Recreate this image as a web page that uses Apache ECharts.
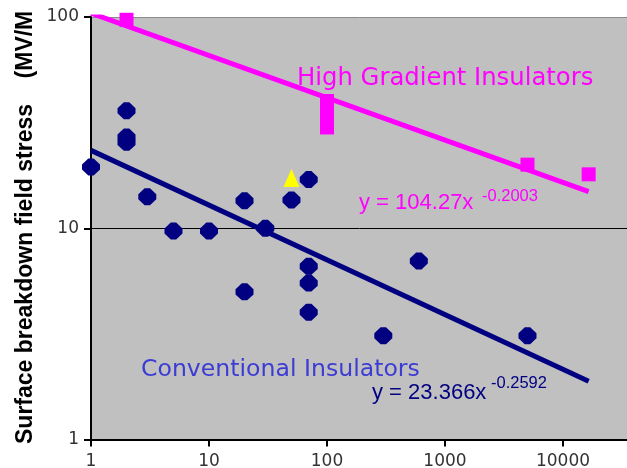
<!DOCTYPE html>
<html>
<head>
<meta charset="utf-8">
<script src="https://cdn.jsdelivr.net/npm/echarts@6/dist/echarts.min.js"></script>
<style>
  html, body { margin: 0; padding: 0; background: #ffffff; }
  #chart { width: 627px; height: 468px; }
</style>
</head>
<body>
<div id="chart"></div>
<script>
// Breakdown field stress of insulators versus gap / scale parameter (log-log)
const conventionalX = [1, 2, 2, 2, 3, 5, 10, 20, 20, 30, 50, 70, 70, 70, 70, 300, 600, 5000];
const conventionalY = [19.5, 36, 27, 25.5, 14.1, 9.7, 9.7, 13.5, 5.0, 10.0, 13.6, 17, 6.6, 5.5, 4.0, 3.1, 7.0, 3.1];

const highGradientX = [2, 100, 100, 100, 100, 5000, 16500];
const highGradientY = [97, 40, 36, 33, 30, 20, 18];

const highlightX = [50];
const highlightY = [17.3];

// Power-law fits y = a * x^b, drawn over the fitted x range
const fitRangeX = [1, 16500];
const highGradientFit = [104.27, -0.2003];
const conventionalFit = [23.366, -0.2592];

const xTicks = [1, 10, 100, 1000, 10000, 100000];
const yTicks = [1, 10, 100];

const pairs = (xs, ys) => xs.map((x, i) => [x, ys[i]]);
const fitLine = (fit) => fitRangeX.map(x => [x, fit[0] * Math.pow(x, fit[1])]);

const NAVY = '#000080';
const MAGENTA = '#ff00ff';

const chart = echarts.init(document.getElementById('chart'), null, { renderer: 'canvas' });

chart.setOption({
  animation: false,
  backgroundColor: '#ffffff',
  grid: {
    left: 91, top: 17, width: 590, height: 422.5,
    outerBoundsMode: 'none',
    containLabel: false,
    show: true, backgroundColor: '#c0c0c0', borderWidth: 0
  },
  xAxis: {
    type: 'log', logBase: 10,
    min: xTicks[0], max: xTicks[xTicks.length - 1],
    axisLine: { show: true, lineStyle: { color: '#000', width: 2 } },
    axisTick: { show: true, inside: false, length: 7, lineStyle: { color: '#000', width: 2 } },
    minorTick: { show: false },
    axisLabel: {
      fontFamily: 'DejaVu Sans', fontSize: 17, color: '#333', margin: 14,
      formatter: v => String(Math.round(v))
    },
    splitLine: { show: false }
  },
  yAxis: {
    type: 'log', logBase: 10,
    min: yTicks[0], max: yTicks[yTicks.length - 1],
    axisLine: { show: true, lineStyle: { color: '#000', width: 2 } },
    axisTick: { show: true, inside: false, length: 7, lineStyle: { color: '#000', width: 2 } },
    minorTick: { show: false },
    axisLabel: {
      fontFamily: 'DejaVu Sans', fontSize: 17, color: '#333', margin: 12,
      formatter: v => String(Math.round(v))
    },
    splitLine: { show: true, lineStyle: { color: ['#000', '#000', '#8a8a8a'], width: 1 } }
  },
  series: [
    {
      name: 'Conventional Insulators',
      type: 'scatter',
      data: pairs(conventionalX, conventionalY),
      symbol: 'path://M3.5,0 L6.5,0 L10,3.5 L10,6.5 L6.5,10 L3.5,10 L0,6.5 L0,3.5 Z',
      symbolSize: [18, 17],
      itemStyle: { color: NAVY, opacity: 1 },
      clip: false,
      z: 3
    },
    {
      name: 'High Gradient Insulators',
      type: 'scatter',
      data: pairs(highGradientX, highGradientY),
      symbol: 'rect',
      symbolSize: 14,
      itemStyle: { color: MAGENTA, opacity: 1 },
      clip: false,
      z: 3
    },
    {
      name: 'Highlighted sample',
      type: 'scatter',
      data: pairs(highlightX, highlightY),
      symbol: 'triangle',
      symbolSize: [16, 18],
      itemStyle: { color: '#ffff00', opacity: 1 },
      clip: false,
      z: 3
    },
    {
      name: 'High gradient fit',
      type: 'line',
      data: fitLine(highGradientFit),
      showSymbol: false,
      symbol: 'none',
      lineStyle: { color: MAGENTA, width: 5 },
      clip: true,
      z: 4
    },
    {
      name: 'Conventional fit',
      type: 'line',
      data: fitLine(conventionalFit),
      showSymbol: false,
      symbol: 'none',
      lineStyle: { color: NAVY, width: 5 },
      clip: true,
      z: 4
    }
  ],
  graphic: [
    {
      type: 'text', x: 26, y: 444, rotation: Math.PI / 2,
      style: {
        text: 'Surface breakdown field stress    (MV/M',
        font: 'bold 23px "Liberation Sans", Arial, sans-serif',
        fill: '#000', textAlign: 'left', textVerticalAlign: 'middle'
      }
    },
    {
      type: 'text', x: 297, y: 79,
      style: {
        text: 'High Gradient Insulators',
        font: '24.3px "DejaVu Sans", sans-serif',
        fill: MAGENTA, textAlign: 'left', textVerticalAlign: 'middle'
      }
    },
    {
      type: 'text', x: 141, y: 370,
      style: {
        text: 'Conventional Insulators',
        font: '23.6px "DejaVu Sans", sans-serif',
        fill: '#3c3cd4', textAlign: 'left', textVerticalAlign: 'middle'
      }
    },
    {
      type: 'text', x: 359, y: 203,
      style: {
        text: 'y = ' + highGradientFit[0] + 'x',
        font: '22px "Liberation Sans", Arial, sans-serif',
        fill: MAGENTA, textAlign: 'left', textVerticalAlign: 'middle'
      }
    },
    {
      type: 'text', x: 482, y: 196,
      style: {
        text: String(highGradientFit[1]),
        font: '16.5px "Liberation Sans", Arial, sans-serif',
        fill: MAGENTA, textAlign: 'left', textVerticalAlign: 'middle'
      }
    },
    {
      type: 'text', x: 372, y: 393,
      style: {
        text: 'y = ' + conventionalFit[0] + 'x',
        font: '22px "Liberation Sans", Arial, sans-serif',
        fill: NAVY, textAlign: 'left', textVerticalAlign: 'middle'
      }
    },
    {
      type: 'text', x: 491, y: 383,
      style: {
        text: String(conventionalFit[1]),
        font: '16.5px "Liberation Sans", Arial, sans-serif',
        fill: NAVY, textAlign: 'left', textVerticalAlign: 'middle'
      }
    }
  ]
});
</script>
</body>
</html>
